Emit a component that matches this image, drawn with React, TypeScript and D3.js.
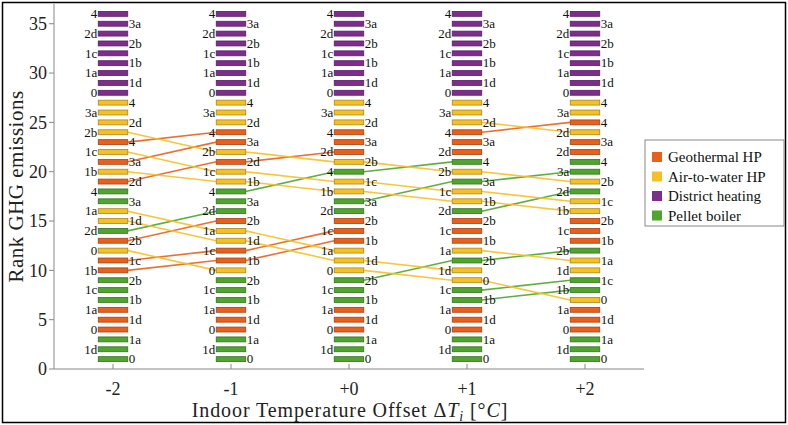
import React from "react";
import * as d3 from "d3";

// Temperature offsets (x categories)
const offsets = [-2, -1, 0, 1, 2];
const offsetLabels = ["-2", "-1", "+0", "+1", "+2"];
const yTicks = [0, 5, 10, 15, 20, 25, 30, 35];

// Technologies: G = Geothermal HP, A = Air-to-water HP, D = District heating, P = Pellet boiler
const techKeys = ["G", "A", "D", "P"];
const techNames = ["Geothermal HP", "Air-to-water HP", "District heating", "Pellet boiler"];
const techColors = ["#E8601C", "#F5C026", "#7E2D8C", "#4FA52E"];

// Ranking (rank 1 .. 36, bottom to top) for each offset column
const districtTop = ["D0", "D1d", "D1a", "D1b", "D1c", "D2b", "D2d", "D3a", "D4"];
const rankMinus2 = ["P0", "P1d", "P1a", "G0", "G1d", "G1a", "P1b", "P1c", "P2b", "G1b", "G1c", "A0", "G2b", "P2d", "A1d", "A1a", "P3a", "P4", "G2d", "A1b", "G3a", "A1c", "G4", "A2b", "A2d", "A3a", "A4", ...districtTop];
const rankMinus1 = ["P0", "P1d", "P1a", "G0", "G1d", "G1a", "P1b", "P1c", "P2b", "A0", "G1b", "G1c", "A1d", "A1a", "G2b", "P2d", "P3a", "P4", "A1b", "A1c", "G2d", "A2b", "G3a", "G4", "A2d", "A3a", "A4", ...districtTop];
const rankZero = ["P0", "P1d", "P1a", "G0", "G1d", "G1a", "P1b", "P1c", "P2b", "A0", "A1d", "A1a", "G1b", "G1c", "G2b", "P2d", "P3a", "A1b", "A1c", "P4", "A2b", "G2d", "G3a", "G4", "A2d", "A3a", "A4", ...districtTop];
const rankPlus1 = ["P0", "P1d", "P1a", "G0", "G1d", "G1a", "P1b", "P1c", "A0", "A1d", "P2b", "A1a", "G1b", "G1c", "G2b", "P2d", "A1b", "A1c", "P3a", "A2b", "P4", "G2d", "G3a", "G4", "A2d", "A3a", "A4", ...districtTop];
const rankPlus2 = ["P0", "P1d", "P1a", "G0", "G1d", "G1a", "A0", "P1b", "P1c", "A1d", "A1a", "P2b", "G1b", "G1c", "G2b", "A1b", "A1c", "P2d", "A2b", "P3a", "P4", "G2d", "G3a", "A2d", "G4", "A3a", "A4", ...districtTop];
const columns = [rankMinus2, rankMinus1, rankZero, rankPlus1, rankPlus2];

const W = 788;
const H = 425;
const FONT = "Liberation Serif";

export default function App() {
  const x = d3.scaleLinear().domain([-2.5, 2.5]).range([54, 644]);
  const y = d3.scaleLinear().domain([0, 37]).range([369, 4]);
  const halfW = 0.125;
  const halfH = 0.25;
  const colorOf = (code: string) => techColors[techKeys.indexOf(code[0])];

  const lines: React.ReactElement[] = [];
  for (let c = 0; c < columns.length - 1; c++) {
    columns[c].forEach((code, i) => {
      const j = columns[c + 1].indexOf(code);
      if (j !== i) {
        lines.push(
          <line
            key={`l${c}-${code}`}
            x1={x(offsets[c] + halfW)}
            y1={y(i + 1)}
            x2={x(offsets[c + 1] - halfW)}
            y2={y(j + 1)}
            stroke={colorOf(code)}
            strokeWidth={1.6}
            strokeOpacity={0.9}
          />
        );
      }
    });
  }

  const bars: React.ReactElement[] = [];
  columns.forEach((col, c) => {
    col.forEach((code, i) => {
      const rank = i + 1;
      const fill = colorOf(code);
      const x0 = x(offsets[c] - halfW);
      const x1 = x(offsets[c] + halfW);
      const yt = y(rank + halfH);
      const yb = y(rank - halfH);
      const right = rank % 2 === 1;
      bars.push(
        <g key={`b${c}-${code}`}>
          <rect x={x0} y={yt} width={x1 - x0} height={yb - yt} fill={fill}
            stroke={d3.color(fill)!.darker(1).formatHex()} strokeWidth={0.8} />
          <text x={right ? x1 + 1 : x0 - 1} y={y(rank)} dy="0.33em"
            textAnchor={right ? "start" : "end"} fontSize={13} fill="#111" fontFamily={FONT}>
            {code.slice(1)}
          </text>
        </g>
      );
    });
  });

  return (
    <svg width={W} height={H} style={{ position: "absolute", left: 0, top: 0, background: "#fff" }}>
      <rect x={2.5} y={2.5} width={W - 5} height={H - 5} fill="none" stroke="#000" strokeWidth={1.5} />
      {/* axes */}
      <line x1={x(-2.5)} x2={x(-2.5)} y1={y(37)} y2={y(0)} stroke="#888" strokeWidth={1} />
      <line x1={x(-2.5)} x2={x(2.5)} y1={y(0)} y2={y(0)} stroke="#888" strokeWidth={1} />
      {yTicks.map((t) => (
        <g key={`yt${t}`}>
          <line x1={x(-2.5) - 5} x2={x(-2.5)} y1={y(t)} y2={y(t)} stroke="#888" />
          <text x={x(-2.5) - 7} y={y(t)} dy="0.35em" textAnchor="end" fontSize={18} fill="#222" fontFamily={FONT}>{t}</text>
        </g>
      ))}
      {offsets.map((o, i) => (
        <g key={`xt${o}`}>
          <line x1={x(o)} x2={x(o)} y1={y(0)} y2={y(0) - 5} stroke="#888" />
          <text x={x(o)} y={395} textAnchor="middle" fontSize={18} fill="#222" fontFamily={FONT}>{offsetLabels[i]}</text>
        </g>
      ))}
      <text x={350} y={417} textAnchor="middle" fontSize={20} letterSpacing={0.9} fill="#222" fontFamily={FONT}>
        Indoor Temperature Offset Δ<tspan fontStyle="italic">T</tspan>
        <tspan fontStyle="italic" fontSize={14} dy={4}>i</tspan>
        <tspan dy={-4}> [°</tspan><tspan fontStyle="italic">C</tspan>]
      </text>
      <text transform={`translate(23,${y(18.5)}) rotate(-90)`} textAnchor="middle" fontSize={21} letterSpacing={0.5} fill="#222" fontFamily={FONT}>
        Rank GHG emissions
      </text>
      {lines}
      {bars}
      {/* legend */}
      <g>
        <rect x={645} y={140} width={139} height={86} fill="#fff" stroke="#888" strokeWidth={1} />
        {techNames.map((n, i) => (
          <g key={n}>
            <rect x={652} y={152 + i * 19.5} width={10} height={10} fill={techColors[i]} />
            <text x={668} y={157 + i * 19.5} dy="0.35em" fontSize={15} fill="#111" fontFamily={FONT}>{n}</text>
          </g>
        ))}
      </g>
    </svg>
  );
}
